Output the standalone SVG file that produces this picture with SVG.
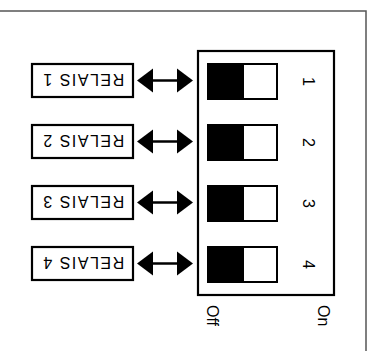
<svg xmlns="http://www.w3.org/2000/svg" width="372" height="351" viewBox="0 0 372 351">
<style>
.frame{fill:none;stroke:#555;stroke-width:1.5}
.box{fill:#fff;stroke:#000;stroke-width:2.2}
.sw{fill:#fff;stroke:#000;stroke-width:2}
.knob{fill:#000}
.txt{font-family:"Liberation Sans",Arial,sans-serif;font-size:16px;fill:#000}
.lbl{font-family:"Liberation Sans",Arial,sans-serif;font-size:16px;fill:#000;letter-spacing:1.5px}
.shaft{stroke:#000;stroke-width:2.5;fill:none}
.head{fill:#000}
</style>
<defs>
<g id="arrow">
<line class="shaft" x1="150" y1="0" x2="180" y2="0"/>
<polygon class="head" points="137,0 153,-12 153,12"/>
<polygon class="head" points="193,0 177,-12 177,12"/>
</g>
</defs>
<path class="frame" d="M0,11 H366 V351"/>
<g id="dip">
<rect class="box" x="198" y="51" width="136" height="244"/>
<text class="txt" transform="translate(207,305) rotate(90)">Off</text>
<text class="txt" transform="translate(318,305) rotate(90)">On</text>
</g>
<g id="switch1">
<rect class="sw" x="208" y="64" width="69" height="35"/>
<rect class="knob" x="208" y="64" width="36" height="35"/>
<text class="txt" text-anchor="middle" transform="translate(303,81.5) rotate(90)">1</text>
</g>
<g id="switch2">
<rect class="sw" x="208" y="125" width="69" height="35"/>
<rect class="knob" x="208" y="125" width="36" height="35"/>
<text class="txt" text-anchor="middle" transform="translate(303,142.5) rotate(90)">2</text>
</g>
<g id="switch3">
<rect class="sw" x="208" y="186" width="69" height="35"/>
<rect class="knob" x="208" y="186" width="36" height="35"/>
<text class="txt" text-anchor="middle" transform="translate(303,203.5) rotate(90)">3</text>
</g>
<g id="switch4">
<rect class="sw" x="208" y="247" width="69" height="35"/>
<rect class="knob" x="208" y="247" width="36" height="35"/>
<text class="txt" text-anchor="middle" transform="translate(303,264.5) rotate(90)">4</text>
</g>
<g id="relais1">
<rect class="box" x="32" y="64" width="101" height="33"/>
<text class="lbl" text-anchor="middle" transform="translate(83,74) rotate(180)">RELAIS 1</text>
</g>
<g id="relais2">
<rect class="box" x="32" y="125" width="101" height="33"/>
<text class="lbl" text-anchor="middle" transform="translate(83,135) rotate(180)">RELAIS 2</text>
</g>
<g id="relais3">
<rect class="box" x="32" y="186" width="101" height="33"/>
<text class="lbl" text-anchor="middle" transform="translate(83,196) rotate(180)">RELAIS 3</text>
</g>
<g id="relais4">
<rect class="box" x="32" y="247" width="101" height="33"/>
<text class="lbl" text-anchor="middle" transform="translate(83,257) rotate(180)">RELAIS 4</text>
</g>
<g id="connectors">
<use href="#arrow" transform="translate(0,80.5)"/>
<use href="#arrow" transform="translate(0,141.5)"/>
<use href="#arrow" transform="translate(0,202.5)"/>
<use href="#arrow" transform="translate(0,263.5)"/>
</g>
</svg>
